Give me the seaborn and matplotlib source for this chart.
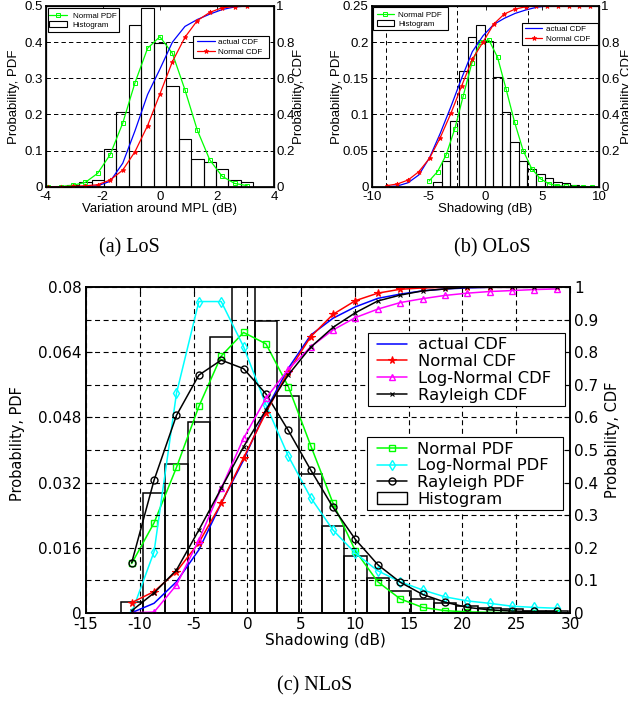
import matplotlib
matplotlib.use("Agg")
import matplotlib.pyplot as plt
import seaborn as sns
import numpy as np
from matplotlib.lines import Line2D
from matplotlib.patches import Patch, Rectangle

# ---------------- data ----------------
# (a) LoS
los_x = [-3.92, -3.48, -3.05, -2.61, -2.18, -1.74, -1.30, -0.87, -0.43, 0.00,
         0.44, 0.88, 1.31, 1.75, 2.18, 2.62, 3.06]
los_hist = [0.0, 0.0, 0.005, 0.012, 0.018, 0.104, 0.206, 0.447, 0.494, 0.397,
            0.279, 0.131, 0.076, 0.068, 0.048, 0.018, 0.012]
los_pdf_normal = [0.0, 0.0005, 0.004, 0.012, 0.037, 0.089, 0.176, 0.288, 0.383, 0.415,
                  0.369, 0.268, 0.157, 0.074, 0.029, 0.009, 0.003]
los_cdf_actual = [0.0, 0.0, 0.0, 0.001, 0.005, 0.03, 0.13, 0.31, 0.51, 0.65,
                  0.80, 0.887, 0.925, 0.955, 0.98, 0.995, 1.0]
los_cdf_normal = [0.0, 0.0, 0.002, 0.005, 0.011, 0.037, 0.092, 0.194, 0.338, 0.512,
                  0.692, 0.827, 0.919, 0.965, 0.99, 0.997, 1.0]

# (b) OLoS
olos_x = [-4.96, -4.21, -3.46, -2.70, -1.95, -1.20, -0.45, 0.30, 1.06, 1.81,
          2.56, 3.31, 4.06, 4.82, 5.57, 6.32, 7.07, 7.82, 8.58, 9.33]
olos_hist = [0.0, 0.0069, 0.035, 0.091, 0.160, 0.207, 0.224, 0.202, 0.152, 0.103,
             0.062, 0.035, 0.025, 0.018, 0.012, 0.007, 0.0046, 0.0023, 0.0014, 0.0]
olos_pdf_normal = [0.0078, 0.021, 0.044, 0.080, 0.126, 0.171, 0.200, 0.203, 0.179, 0.135,
                   0.089, 0.050, 0.025, 0.011, 0.004, 0.0014, 0.0005, 0.0002, 0.0001, 0.0]
olos_cdf_x = [-8.68, -7.74, -6.80, -5.86, -4.92, -3.98, -3.04, -2.10, -1.16, -0.22,
              0.72, 1.66, 2.60, 3.54, 4.48, 5.42, 6.36, 7.30, 8.24, 9.18]
olos_cdf_actual = [0.0, 0.004, 0.022, 0.065, 0.160, 0.295, 0.443, 0.600, 0.747, 0.835,
                   0.898, 0.932, 0.959, 0.978, 0.993, 1.0, 1.0, 1.0, 1.0, 1.0]
olos_cdf_normal = [0.006, 0.015, 0.037, 0.083, 0.157, 0.271, 0.406, 0.557, 0.705, 0.80,
                   0.90, 0.956, 0.983, 0.996, 1.0, 1.0, 1.0, 1.0, 1.0, 1.0]

# (c) NLoS
nlos_x = [-10.75, -8.67, -6.59, -4.51, -2.43, -0.35, 1.73, 3.81, 5.89, 7.97,
          10.05, 12.13, 14.21, 16.29, 18.37, 20.45, 22.53, 24.61, 26.69, 28.77]
nlos_hist = [0.0027, 0.0295, 0.0366, 0.0468, 0.0679, 0.088, 0.0718, 0.0532, 0.0342, 0.0212,
             0.0140, 0.0085, 0.0053, 0.0033, 0.0023, 0.0016, 0.0011, 0.0008, 0.0005, 0.0003]
nlos_pdf_normal = [0.0121, 0.0221, 0.0357, 0.0507, 0.0631, 0.0689, 0.0661, 0.0556, 0.0411, 0.0269,
                   0.0152, 0.0076, 0.0034, 0.0013, 0.0005, 0.0002, 0.0001, 0.0, 0.0, 0.0]
nlos_pdf_lognormal = [0.0, 0.0150, 0.0539, 0.0765, 0.0765, 0.0654, 0.0511, 0.0385, 0.0283, 0.0203,
                      0.0146, 0.0103, 0.0076, 0.0056, 0.0039, 0.0029, 0.0023, 0.0016, 0.0013, 0.0011]
nlos_pdf_rayleigh = [0.0123, 0.0326, 0.0485, 0.0584, 0.0621, 0.0600, 0.0538, 0.0448, 0.0351, 0.0259,
                     0.0180, 0.0118, 0.0075, 0.0045, 0.0026, 0.0013, 0.0007, 0.0004, 0.0003, 0.0003]
nlos_cdf_actual = [0.0, 0.029, 0.095, 0.193, 0.336, 0.469, 0.623, 0.751, 0.853, 0.905,
                   0.940, 0.966, 0.979, 0.989, 0.995, 0.998, 1.0, 1.0, 1.0, 1.0]
nlos_cdf_normal = [0.031, 0.065, 0.126, 0.215, 0.336, 0.476, 0.615, 0.741, 0.848, 0.917,
                   0.959, 0.982, 0.994, 0.998, 1.0, 1.0, 1.0, 1.0, 1.0, 1.0]
nlos_cdf_lognormal = [0.0, 0.002, 0.085, 0.223, 0.382, 0.536, 0.659, 0.748, 0.817, 0.869,
                      0.907, 0.933, 0.953, 0.965, 0.975, 0.982, 0.987, 0.990, 0.993, 0.995]
nlos_cdf_rayleigh = [0.006, 0.061, 0.131, 0.254, 0.382, 0.510, 0.623, 0.731, 0.816, 0.877,
                     0.922, 0.958, 0.976, 0.989, 0.995, 1.0, 1.0, 1.0, 1.0, 1.0]

# tick labels
los_xticks = [-4, -2, 0, 2, 4]
los_pdf_ticks = ["0", "0.1", "0.2", "0.3", "0.4", "0.5"]
olos_xticks = [-10, -5, 0, 5, 10]
olos_pdf_ticks = ["0", "0.05", "0.1", "0.15", "0.2", "0.25"]
small_cdf_ticks = ["0", "0.2", "0.4", "0.6", "0.8", "1"]
nlos_xticks = [-15, -10, -5, 0, 5, 10, 15, 20, 25, 30]
nlos_pdf_ticks = ["0", "0.016", "0.032", "0.048", "0.064", "0.08"]
nlos_cdf_ticks = ["0", "0.1", "0.2", "0.3", "0.4", "0.5", "0.6", "0.7", "0.8", "0.9", "1"]

# ---------------- style ----------------
W, H = 628, 708
sns.set_theme(style="white")
plt.rcParams['font.family'] = ['DejaVu Sans']
plt.rcParams['axes.edgecolor'] = 'black'
plt.rcParams['xtick.color'] = 'black'
plt.rcParams['ytick.color'] = 'black'
plt.rcParams['text.color'] = 'black'
plt.rcParams['axes.labelcolor'] = 'black'

GREEN, CYAN, MAG, RED, BLUE, BLACK = '#00ff00', '#00ffff', '#ff00ff', '#ff0000', '#0000ff', '#000000'
DASH = (0, (4.5, 3.2))

fig = plt.figure(figsize=(W / 100, H / 100), dpi=100)


def add_ax(l, t, r, b):
    return fig.add_axes([l / W, 1 - b / H, (r - l) / W, (b - t) / H])


def edges_from(centers):
    c = np.asarray(centers, dtype=float)
    d = np.diff(c)
    mids = (c[:-1] + c[1:]) / 2
    return np.concatenate([[c[0] - d[0] / 2], mids, [c[-1] + d[-1] / 2]]).tolist()


OPEN = ('s', 'o', 'd', '^', 'D')


def line(ax, x, y, color, marker=None, ms=4, lw=1.0, mew=0.8):
    kw = dict(color=color, linewidth=lw, ax=ax, legend=False)
    if marker:
        kw.update(marker=marker, markersize=ms, markeredgecolor=color,
                  markeredgewidth=mew, markerfacecolor='none' if marker in OPEN else color)
    sns.lineplot(x=x, y=y, **kw)


def handle(color, marker=None, ms=4, lw=1.0, mew=0.8):
    return Line2D([], [], color=color, lw=lw, marker=marker, markersize=ms,
                  markeredgecolor=color, markeredgewidth=mew,
                  markerfacecolor='none' if marker in OPEN else color)


def framed_legend(handles, labels, box, hx0, hx1, tx0, cy1, cy2, font, fs_pt):
    """Legend drawn in figure pixel coordinates with a separate square frame."""
    l, t, r, b = box
    fig.add_artist(Rectangle((l / W, 1 - b / H), (r - l) / W, (b - t) / H,
                             transform=fig.transFigure, facecolor='white',
                             edgecolor='black', linewidth=0.8, zorder=4))
    fs = fs_pt * 100 / 72
    n = len(labels)
    pitch = (cy2 - cy1) / (n - 1)
    leg = fig.legend(handles, labels, loc='center left',
                     bbox_to_anchor=(hx0 / W, 1 - (cy1 + cy2) / 2 / H),
                     bbox_transform=fig.transFigure, frameon=False, borderpad=0,
                     borderaxespad=0, prop=dict(family=font, size=fs_pt),
                     handlelength=(hx1 - hx0) / fs, handletextpad=(tx0 - hx1) / fs,
                     labelspacing=pitch / fs - 0.95)
    leg.set_zorder(5)
    return leg


# ---------------- small panels ----------------
def small_panel(box, x, hist, pdf, cdf_x, cdf_act, cdf_nor, xlim, ymax, xticks, pdf_ticks,
                vgrid, xlabel, font):
    l, t, r, b = box
    ax = add_ax(l, t, r, b)
    fsz = 9.5
    sns.histplot(x=x, weights=hist, bins=edges_from(x), ax=ax, fill=False,
                 color='black', linewidth=0.8)
    line(ax, x, pdf, GREEN, 's', ms=3, lw=0.9, mew=0.7)
    ax.set_xlim(*xlim)
    ax.set_ylim(0, ymax)
    ax.set_xticks(xticks)
    ax.set_xticklabels([str(v) for v in xticks], fontsize=fsz, family=font)
    ax.set_yticks(np.linspace(0, ymax, len(pdf_ticks)))
    ax.set_yticklabels(pdf_ticks, fontsize=fsz, family=font)
    ax.set_xticks(vgrid, minor=True)
    ax.grid(False)
    ax.grid(True, which='minor', axis='x', color='black', linestyle=DASH, linewidth=0.7)
    ax.grid(True, which='major', axis='y', color='black', linestyle=DASH, linewidth=0.7)
    ax.tick_params(which='major', direction='in', length=3, width=0.6, top=True, right=False)
    ax.tick_params(axis='x', which='major', pad=3.0)
    ax.tick_params(axis='y', which='major', pad=2.2)
    ax.tick_params(which='minor', length=0)
    ax.set_xlabel(xlabel, fontsize=fsz, family=font)
    ax.set_ylabel("Probability, PDF", fontsize=fsz, family=font)
    ax.xaxis.set_label_coords(0.5, (b - 202.8) / (b - t))
    for s in ax.spines.values():
        s.set_linewidth(0.9)

    ax2 = ax.twinx()
    line(ax2, cdf_x, cdf_act, BLUE, None, lw=0.9)
    line(ax2, cdf_x, cdf_nor, RED, '*', ms=3.5, lw=0.9, mew=0.6)
    ax2.set_ylim(0, 1)
    ax2.set_yticks(np.linspace(0, 1, len(small_cdf_ticks)))
    ax2.set_yticklabels(small_cdf_ticks, fontsize=fsz, family=font)
    ax2.tick_params(direction='in', length=3, width=0.6, pad=1.5)
    ax2.set_ylabel("Probability, CDF", fontsize=fsz, family=font)
    ax2.grid(False)
    return ax, ax2


SFONT = 'Liberation Sans'
axa, axa2 = small_panel((45.7, 6, 274, 186.7), los_x, los_hist, los_pdf_normal, los_x,
                        los_cdf_actual, los_cdf_normal, (-4, 4), 0.5, los_xticks, los_pdf_ticks,
                        [-2, 0, 2], "Variation around MPL (dB)", SFONT)
axa.yaxis.set_label_coords((20.5 - 45.7) / 228.3, 0.5)
axa2.yaxis.set_label_coords((292.5 - 45.7) / 228.3, 0.5)

axb, axb2 = small_panel((371.7, 6, 599.3, 186.7), olos_x, olos_hist, olos_pdf_normal, olos_cdf_x,
                        olos_cdf_actual, olos_cdf_normal, (-10, 10), 0.25, olos_xticks, olos_pdf_ticks,
                        [-8.75, -2.5, 3.75], "Shadowing (dB)", SFONT)
axb.yaxis.set_label_coords((343 - 371.7) / 227.6, 0.5)
axb2.yaxis.set_label_coords((621 - 371.7) / 227.6, 0.5)

small_pdf_handles = [handle(GREEN, 's', ms=3, lw=0.9, mew=0.7),
                     Patch(facecolor='white', edgecolor='black', linewidth=0.8)]
small_cdf_handles = [handle(BLUE, None, lw=0.9), handle(RED, '*', ms=3.5, lw=0.9, mew=0.6)]
framed_legend(small_pdf_handles, ["Normal PDF", "Histogram"], (47.7, 8.3, 119.3, 31.7),
              49.3, 66.7, 72.7, 15.7, 25.0, SFONT, 5.8)
framed_legend(small_cdf_handles, ["actual CDF", "Normal CDF"], (192.7, 35.7, 269.3, 57.7),
              197.3, 215.0, 218.3, 42.3, 52.3, SFONT, 5.8)
framed_legend(small_pdf_handles, ["Normal PDF", "Histogram"], (373.3, 7.3, 448.3, 30.0),
              376.7, 394.0, 398.3, 15.0, 24.3, SFONT, 5.8)
framed_legend(small_cdf_handles, ["actual CDF", "Normal CDF"], (521.7, 23.3, 598.3, 45.0),
              525.0, 542.3, 545.7, 29.3, 38.7, SFONT, 5.8)

# ---------------- big panel (c) ----------------
L, T, R, B = 86, 287.3, 570, 612.7
axc = add_ax(L, T, R, B)
sns.histplot(x=nlos_x, weights=nlos_hist, bins=edges_from(nlos_x), ax=axc, fill=False,
             color='black', linewidth=1.1)
line(axc, nlos_x, nlos_pdf_normal, GREEN, 's', ms=5, lw=1.1, mew=1.0)
line(axc, nlos_x, nlos_pdf_lognormal, CYAN, 'd', ms=5, lw=1.1, mew=1.0)
line(axc, nlos_x, nlos_pdf_rayleigh, BLACK, 'o', ms=5, lw=1.1, mew=1.0)
axc.set_xlim(-15, 30)
axc.set_ylim(0, 0.08)
axc.set_xticks(nlos_xticks)
axc.set_xticklabels([str(v) for v in nlos_xticks], fontsize=11)
axc.set_yticks(np.linspace(0, 0.08, len(nlos_pdf_ticks)))
axc.set_yticklabels(nlos_pdf_ticks, fontsize=11)
axc.grid(False)
axc.grid(True, which='major', axis='x', color='black', linestyle=DASH, linewidth=0.8)
axc.tick_params(direction='in', length=4, width=0.8, top=True, right=False)
axc.tick_params(axis='x', pad=3.2)
axc.tick_params(axis='y', pad=3)
axc.set_xlabel("Shadowing (dB)", fontsize=11)
axc.set_ylabel("Probability, PDF", fontsize=10.5)
axc.xaxis.set_label_coords((325 - L) / (R - L), (B - 632.5) / (B - T))
axc.yaxis.set_label_coords((25.5 - L) / (R - L), 0.52)
for s in axc.spines.values():
    s.set_linewidth(1.1)

axc2 = axc.twinx()
line(axc2, nlos_x, nlos_cdf_actual, BLUE, None, lw=1.1)
line(axc2, nlos_x, nlos_cdf_normal, RED, '*', ms=5.5, lw=1.1, mew=0.8)
line(axc2, nlos_x, nlos_cdf_lognormal, MAG, '^', ms=5, lw=1.1, mew=1.0)
line(axc2, nlos_x, nlos_cdf_rayleigh, BLACK, 'x', ms=3.5, lw=1.1, mew=0.8)
axc2.set_ylim(0, 1)
axc2.set_yticks(np.linspace(0, 1, len(nlos_cdf_ticks)))
axc2.set_yticklabels(nlos_cdf_ticks, fontsize=11)
axc2.tick_params(direction='in', length=4, width=0.8, pad=3)
axc2.grid(False)
axc2.grid(True, which='major', axis='y', color='black', linestyle=DASH, linewidth=0.8)
axc2.set_ylabel("Probability, CDF", fontsize=10.5)
axc2.yaxis.set_label_coords((605 - L) / (R - L), 0.53)

framed_legend([handle(BLUE, None, lw=1.1), handle(RED, '*', ms=5.5, lw=1.1, mew=0.8),
               handle(MAG, '^', ms=5, lw=1.1, mew=1.0), handle(BLACK, 'x', ms=3.5, lw=1.1, mew=0.8)],
              ["actual CDF", "Normal CDF", "Log-Normal CDF", "Rayleigh CDF"],
              (367.7, 333.3, 565, 406), 377, 407, 418, 344, 396, 'DejaVu Sans', 11.8)
framed_legend([handle(GREEN, 's', ms=5, lw=1.1, mew=1.0), handle(CYAN, 'd', ms=5, lw=1.1, mew=1.0),
               handle(BLACK, 'o', ms=5, lw=1.1, mew=1.0),
               Patch(facecolor='white', edgecolor='black', linewidth=1.0)],
              ["Normal PDF", "Log-Normal PDF", "Rayleigh PDF", "Histogram"],
              (366.7, 436.7, 563.3, 510), 377, 407, 417.3, 448.3, 500, 'DejaVu Sans', 11.8)

# ---------------- captions ----------------
cap = dict(family='Liberation Serif', fontsize=14.5, ha='center', va='center')
fig.text(129 / W, 1 - 248 / H, "(a) LoS", **cap)
fig.text(492 / W, 1 - 248 / H, "(b) OLoS", **cap)
fig.text(315 / W, 1 - 686 / H, "(c) NLoS", **cap)

fig.savefig("out.png", dpi=100)
